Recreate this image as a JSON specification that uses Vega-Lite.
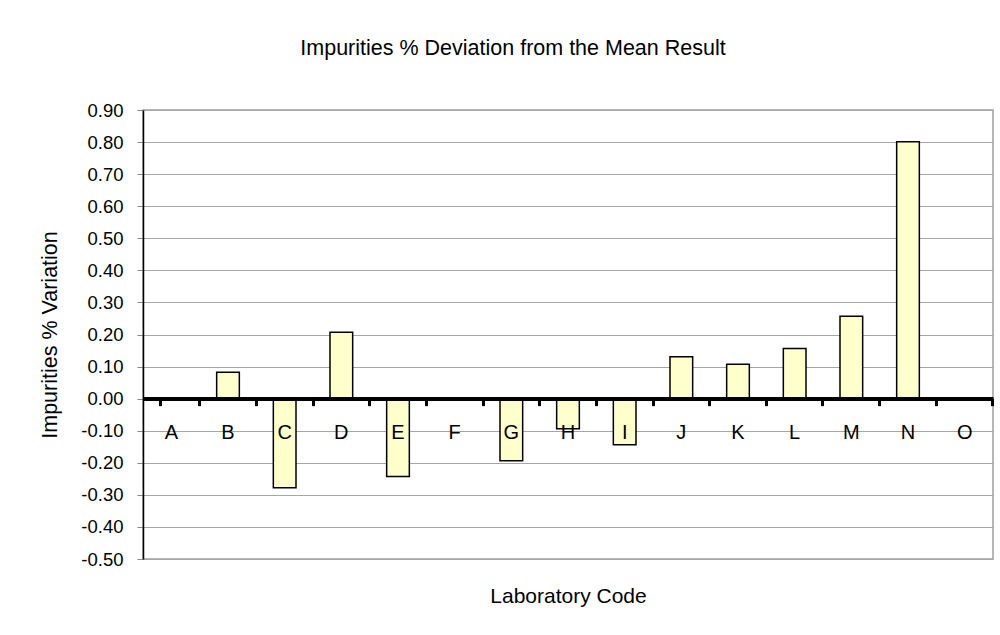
{
  "$schema": "https://vega.github.io/schema/vega-lite/v6.json",
  "autosize": "none",
  "width": 850,
  "height": 449,
  "padding": {"left": 143, "top": 110, "right": 7, "bottom": 76},
  "background": "white",
  "title": {
    "text": "Impurities % Deviation from the Mean Result",
    "anchor": "middle",
    "frame": "group",
    "dx": -55,
    "offset": 25,
    "baseline": "alphabetic",
    "font": "Liberation Sans",
    "fontSize": 21.5,
    "fontWeight": "normal",
    "color": "#000"
  },
  "data": {
    "values": [
      {"lab": "A", "dev": 0},
      {"lab": "B", "dev": 0.082},
      {"lab": "C", "dev": -0.278},
      {"lab": "D", "dev": 0.207},
      {"lab": "E", "dev": -0.243},
      {"lab": "F", "dev": 0},
      {"lab": "G", "dev": -0.194},
      {"lab": "H", "dev": -0.094},
      {"lab": "I", "dev": -0.144},
      {"lab": "J", "dev": 0.131},
      {"lab": "K", "dev": 0.107},
      {"lab": "L", "dev": 0.156},
      {"lab": "M", "dev": 0.257},
      {"lab": "N", "dev": 0.801},
      {"lab": "O", "dev": 0}
    ]
  },
  "mark": {"type": "bar", "fill": "#FFFFCC", "stroke": "#000", "strokeWidth": 1.5},
  "encoding": {
    "x": {
      "field": "lab",
      "type": "nominal",
      "sort": null,
      "scale": {"paddingInner": 0.6, "paddingOuter": 0.3},
      "axis": {
        "title": "Laboratory Code",
        "offset": -160.4,
        "zindex": 1,
        "labelAngle": 0,
        "domainColor": "#000",
        "domainWidth": 4,
        "bandPosition": 1.75,
        "tickExtra": true,
        "tickColor": "#000",
        "tickWidth": 3,
        "tickSize": 7,
        "labelPadding": 27,
        "labelBaseline": "middle",
        "labelFont": "Liberation Sans",
        "labelFontSize": 20,
        "labelColor": "#000",
        "titleFont": "Liberation Sans",
        "titleFontSize": 21,
        "titleFontWeight": "normal",
        "titleColor": "#000",
        "titleY": 198,
        "titleBaseline": "middle",
        "grid": false
      }
    },
    "y": {
      "field": "dev",
      "type": "quantitative",
      "scale": {"domain": [-0.5, 0.9], "nice": false},
      "axis": {
        "title": "Impurities % Variation",
        "values": [-0.5, -0.4, -0.3, -0.2, -0.1, 0, 0.1, 0.2, 0.3, 0.4, 0.5, 0.6, 0.7, 0.8, 0.9],
        "labelExpr": "replace(format(datum.value, '.2f'), '\u2212', '-')",
        "domainColor": "#000",
        "domainWidth": 1.5,
        "tickColor": "#888",
        "tickSize": 6,
        "labelPadding": 14,
        "labelFont": "Liberation Sans",
        "labelFontSize": 18.5,
        "labelColor": "#000",
        "gridColor": "#a6a6a6",
        "gridWidth": 1,
        "titleFont": "Liberation Sans",
        "titleFontSize": 21.5,
        "titleFontWeight": "normal",
        "titleColor": "#000",
        "titleX": -93,
        "titleY": 224.5,
        "titleAngle": -90,
        "titleAlign": "center",
        "titleBaseline": "middle"
      }
    }
  },
  "config": {
    "view": {"stroke": "#a0a0a0", "strokeWidth": 1.5}
  }
}
